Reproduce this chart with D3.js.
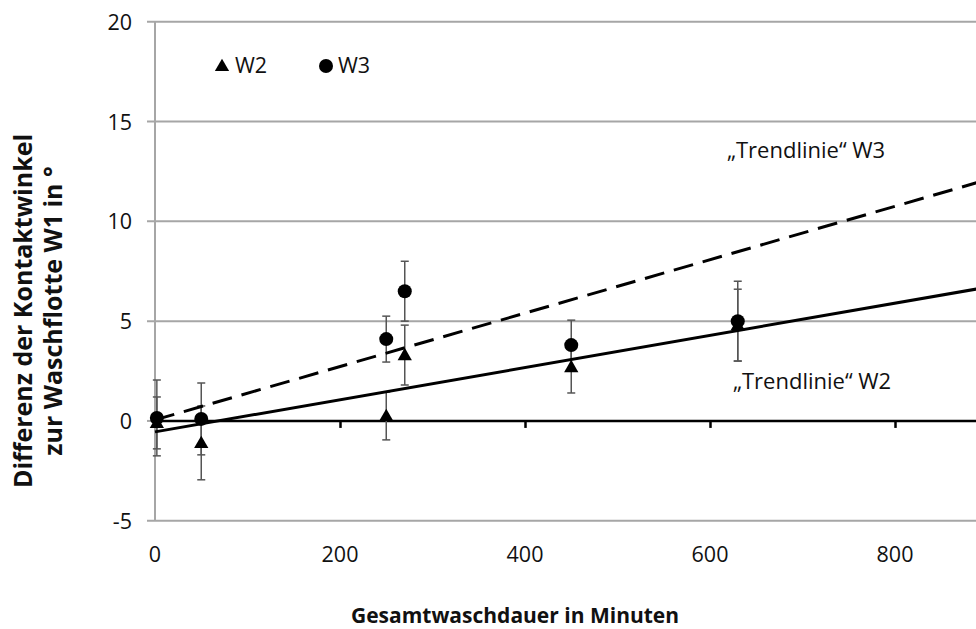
<!DOCTYPE html>
<html>
<head>
<meta charset="utf-8">
<script src="https://cdn.jsdelivr.net/npm/d3@7"></script>
<style>
  html, body { margin: 0; padding: 0; background: #fff; }
  svg { display: block; font-family: "Open Sans", "Noto Sans", sans-serif; }
</style>
</head>
<body>
<svg id="chart" width="976" height="629"></svg>
<script>
// Wash duration (minutes) at which each measurement was taken
const durations = [2, 50, 250, 270, 450, 630];

// Contact-angle difference to wash liquor W1 (degrees) and standard deviations
const w2Values = [-0.1, -1.1, 0.25, 3.3, 2.7, 4.8];
const w2Errors = [1.3, 1.85, 1.2, 1.5, 1.3, 1.8];
const w3Values = [0.15, 0.1, 4.1, 6.5, 3.8, 5.0];
const w3Errors = [1.9, 1.8, 1.15, 1.5, 1.25, 2.0];

// Linear trend lines: [slope, intercept]
const w2Trend = [0.00806, -0.55];
const w3Trend = [0.01338, 0.05];

const xTicks = [0, 200, 400, 600, 800];
const yTicks = [-5, 0, 5, 10, 15, 20];

const svg = d3.select("#chart");

const x = d3.scaleLinear().domain([0, 900]).range([155, 987.5]);
const y = d3.scaleLinear().domain([-5, 20]).range([520.7, 21.8]);

// Horizontal grid lines (zero line is drawn separately as the x axis)
svg.append("g")
  .selectAll("line")
  .data(yTicks.filter(d => d !== 0))
  .join("line")
  .attr("x1", x(0) - 8).attr("x2", 976)
  .attr("y1", d => y(d)).attr("y2", d => y(d))
  .attr("stroke", "#a6a6a6").attr("stroke-width", 2);

// Vertical value axis
svg.append("line")
  .attr("x1", x(0)).attr("x2", x(0))
  .attr("y1", y(20)).attr("y2", y(-5))
  .attr("stroke", "#a6a6a6").attr("stroke-width", 2);

// Small tick for zero on the value axis
svg.append("line")
  .attr("x1", x(0) - 8).attr("x2", x(0))
  .attr("y1", y(0)).attr("y2", y(0))
  .attr("stroke", "#a6a6a6").attr("stroke-width", 2);

// Y tick labels
svg.append("g")
  .selectAll("text")
  .data(yTicks)
  .join("text")
  .attr("x", 132)
  .attr("y", d => y(d) + 8)
  .attr("text-anchor", "end")
  .attr("font-size", 21.5)
  .attr("fill", "#111")
  .text(d => d);

// X axis along zero
const xAxis = d3.axisBottom(x)
  .tickValues(xTicks.filter(d => d > 0))
  .tickSize(7)
  .tickFormat("");
const gx = svg.append("g")
  .attr("transform", `translate(0,${y(0)})`)
  .call(xAxis);
gx.select(".domain").attr("d", `M${x(0)},0H976`).attr("stroke", "#000").attr("stroke-width", 2.5);
gx.selectAll(".tick line").attr("stroke", "#000").attr("stroke-width", 2.5);

// X tick labels below the plot
svg.append("g")
  .selectAll("text")
  .data(xTicks)
  .join("text")
  .attr("x", d => x(d))
  .attr("y", 562)
  .attr("text-anchor", "middle")
  .attr("font-size", 21.5)
  .attr("fill", "#111")
  .text(d => d);

// Axis titles
svg.append("text")
  .attr("x", 515).attr("y", 623)
  .attr("text-anchor", "middle")
  .attr("font-size", 21).attr("font-weight", "bold")
  .attr("fill", "#111")
  .text("Gesamtwaschdauer in Minuten");

const yTitle = svg.append("text")
  .attr("transform", "translate(0,311) rotate(-90)")
  .attr("text-anchor", "middle")
  .attr("font-size", 25).attr("font-weight", "bold")
  .attr("fill", "#111");
yTitle.append("tspan").attr("x", 0).attr("y", 32).text("Differenz der Kontaktwinkel");
yTitle.append("tspan").attr("x", 0).attr("y", 62).text("zur Waschflotte W1 in °");

// Error bars
function errorBars(values, errors) {
  const g = svg.append("g").attr("stroke", "#555").attr("stroke-width", 1.5);
  durations.forEach((d, i) => {
    const cx = x(d), lo = y(values[i] - errors[i]), hi = y(values[i] + errors[i]);
    g.append("line").attr("x1", cx).attr("x2", cx).attr("y1", lo).attr("y2", hi);
    g.append("line").attr("x1", cx - 4).attr("x2", cx + 4).attr("y1", lo).attr("y2", lo);
    g.append("line").attr("x1", cx - 4).attr("x2", cx + 4).attr("y1", hi).attr("y2", hi);
  });
}
errorBars(w2Values, w2Errors);
errorBars(w3Values, w3Errors);

// Trend lines
const trendX = [0, 900];
const line = d3.line().x(d => x(d[0])).y(d => y(d[1]));
svg.append("path")
  .attr("d", line(trendX.map(t => [t, w2Trend[0] * t + w2Trend[1]])))
  .attr("fill", "none").attr("stroke", "#000").attr("stroke-width", 3);
svg.append("path")
  .attr("d", line(trendX.map(t => [t, w3Trend[0] * t + w3Trend[1]])))
  .attr("fill", "none").attr("stroke", "#000").attr("stroke-width", 3)
  .attr("stroke-dasharray", "20,10");

// Markers
const tri = d3.symbol().type(d3.symbolTriangle).size(88);
svg.append("g")
  .selectAll("path")
  .data(durations)
  .join("path")
  .attr("d", tri)
  .attr("transform", (d, i) => `translate(${x(d)},${y(w2Values[i]) + 1})`)
  .attr("fill", "#000");

svg.append("g")
  .selectAll("circle")
  .data(durations)
  .join("circle")
  .attr("cx", d => x(d))
  .attr("cy", (d, i) => y(w3Values[i]))
  .attr("r", 7)
  .attr("fill", "#000");

// Legend
svg.append("path").attr("d", tri).attr("transform", "translate(222,67)").attr("fill", "#000");
svg.append("text").attr("x", 235).attr("y", 73).attr("font-size", 21.5).attr("fill", "#111").text("W2");
svg.append("circle").attr("cx", 326).attr("cy", 66).attr("r", 7).attr("fill", "#000");
svg.append("text").attr("x", 338).attr("y", 73).attr("font-size", 21.5).attr("fill", "#111").text("W3");

// Trend line annotations
svg.append("text").attr("x", 727).attr("y", 158).attr("font-size", 22).attr("fill", "#111")
  .text("„Trendlinie“ W3");
svg.append("text").attr("x", 733).attr("y", 389).attr("font-size", 22).attr("fill", "#111")
  .text("„Trendlinie“ W2");
</script>
</body>
</html>
